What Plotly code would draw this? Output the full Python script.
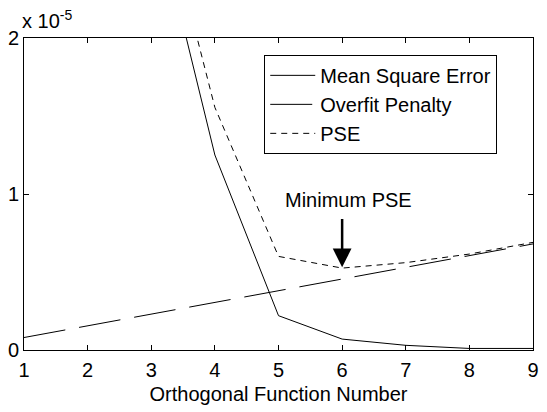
import plotly.graph_objects as go

# values
n = [1, 2, 3, 4, 5, 6, 7, 8, 9]
mse = [8.0e-5, 5.0e-5, 2.92e-5, 1.25e-5, 0.22e-5, 0.07e-5, 0.03e-5, 0.01e-5, 0.01e-5]
penalty = [0.08e-5, 0.155e-5, 0.23e-5, 0.305e-5, 0.38e-5, 0.455e-5, 0.53e-5, 0.605e-5, 0.68e-5]
pse = [m + p for m, p in zip(mse, penalty)]

ytick_vals = [0, 1e-5, 2e-5]
ytick_text = ["0", "1", "2"]

font = "Liberation Sans, Arial, sans-serif"
fs = 20

fig = go.Figure()
fig.add_trace(go.Scatter(x=n, y=mse, mode="lines", name="Mean Square Error",
                         line=dict(color="black", width=1)))
fig.add_trace(go.Scatter(x=n, y=penalty, mode="lines", name="Overfit Penalty",
                         line=dict(color="black", width=1, dash="42px,14px")))
fig.add_trace(go.Scatter(x=n, y=pse, mode="lines", name="PSE",
                         line=dict(color="black", width=1, dash="6px,5px")))

# Minimum PSE arrow
fig.add_annotation(x=6, y=0.53e-5, ax=6, ay=0.85e-5, xref="x", yref="y",
                   axref="x", ayref="y", text="", showarrow=True,
                   arrowhead=2, arrowsize=1.5, arrowwidth=2.5, arrowcolor="black")
fig.add_annotation(x=6.1, y=0.96e-5, text="Minimum PSE", showarrow=False,
                   font=dict(size=fs, color="black"))
fig.add_annotation(x=0, y=1, xref="paper", yref="paper", xanchor="left",
                   yanchor="bottom", yshift=4, xshift=-4,
                   text="x 10<sup>-5</sup>", showarrow=False,
                   font=dict(size=fs, color="black"))

axis_common = dict(showgrid=False, zeroline=False, showline=True, linecolor="black",
                   linewidth=1, mirror="ticks", ticks="inside", ticklen=5,
                   tickcolor="black", tickfont=dict(size=fs, color="black"))

fig.update_layout(
    width=547, height=412,
    margin=dict(l=23, r=8, t=38, b=62),
    paper_bgcolor="white", plot_bgcolor="white",
    font=dict(family=font, size=fs, color="black"),
    showlegend=True,
    legend=dict(x=0.472, y=0.946, xanchor="left", yanchor="top",
                bordercolor="black", borderwidth=1, bgcolor="white",
                font=dict(size=fs), tracegroupgap=0, itemwidth=45),
    xaxis=dict(range=[1, 9], dtick=1, ticklabelstandoff=2,
               title=dict(text="Orthogonal Function Number", font=dict(size=fs), standoff=6),
               **axis_common),
    yaxis=dict(range=[0, 2e-5], tickvals=ytick_vals, ticktext=ytick_text,
               **axis_common),
)

fig.write_html("out.html", config={"displayModeBar": False},
               post_script="document.body.style.margin='0';")
